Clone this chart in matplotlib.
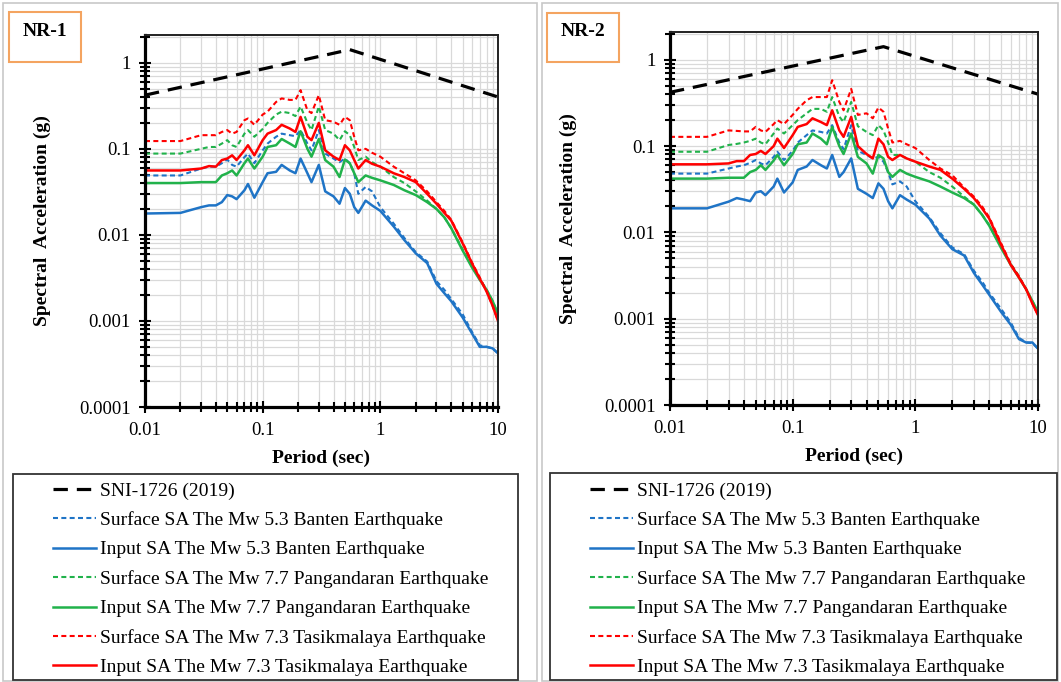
import numpy as np
import matplotlib
matplotlib.use("Agg")
import matplotlib.pyplot as plt
from matplotlib.patches import Rectangle
from matplotlib.ticker import FixedLocator, NullFormatter

plt.rcParams['font.family'] = ['Liberation Serif', 'DejaVu Serif']

# period grid (sec)
period = [0.01, 0.02, 0.03, 0.035, 0.04, 0.045, 0.05, 0.055, 0.06, 0.07, 0.075, 0.085,
          0.1, 0.11, 0.13, 0.145, 0.17, 0.19, 0.21, 0.24, 0.26, 0.3, 0.34, 0.4, 0.45,
          0.5, 0.55, 0.6, 0.65, 0.75, 0.85, 1.0, 1.3, 1.6, 2.0, 2.5, 3.0, 3.5, 4.0,
          5.0, 6.0, 7.0, 8.0, 9.0, 10.0]

# SNI-1726 (2019) design spectrum
sni_period = [0.01, 0.55, 10.0]
sni_sa = [0.42, 1.42, 0.40]

# NR-1
nr1_surf_banten = [0.049, 0.049, 0.059, 0.062, 0.062, 0.068, 0.075, 0.065, 0.062, 0.08, 0.088, 0.068,
                   0.096, 0.115, 0.138, 0.15, 0.144, 0.14, 0.165, 0.115, 0.096, 0.165, 0.088, 0.077, 0.07,
                   0.077, 0.068, 0.052, 0.03, 0.036, 0.032, 0.021, 0.0135, 0.0092, 0.0063, 0.0049, 0.0029,
                   0.0023, 0.0018, 0.0012, 0.00075, 0.00052, 0.0005, 0.00048, 0.00042]
nr1_in_banten = [0.0177, 0.018, 0.021, 0.022, 0.022, 0.024, 0.029, 0.028, 0.026, 0.033, 0.039, 0.027,
                 0.041, 0.052, 0.054, 0.065, 0.056, 0.052, 0.077, 0.052, 0.041, 0.065, 0.032, 0.028, 0.023,
                 0.035, 0.030, 0.021, 0.018, 0.025, 0.022, 0.019, 0.0125, 0.0087, 0.0061, 0.0047, 0.0027,
                 0.0021, 0.0017, 0.0011, 0.00072, 0.0005, 0.0005, 0.00048, 0.00042]
nr1_surf_pang = [0.088, 0.088, 0.1, 0.105, 0.105, 0.115, 0.126, 0.11, 0.105, 0.15, 0.165, 0.138,
                 0.17, 0.2, 0.25, 0.27, 0.26, 0.24, 0.31, 0.2, 0.165, 0.31, 0.165, 0.15, 0.126,
                 0.16, 0.144, 0.105, 0.074, 0.081, 0.07, 0.062, 0.047, 0.04, 0.032, 0.025, 0.02,
                 0.016, 0.012, 0.0068, 0.0043, 0.0031, 0.0023, 0.0017, 0.0012]
nr1_in_pang = [0.040, 0.040, 0.041, 0.041, 0.041, 0.049, 0.052, 0.056, 0.049, 0.068, 0.077, 0.059,
               0.081, 0.105, 0.11, 0.13, 0.115, 0.105, 0.16, 0.1, 0.081, 0.13, 0.074, 0.062, 0.047,
               0.075, 0.068, 0.052, 0.041, 0.049, 0.046, 0.043, 0.038, 0.033, 0.029, 0.024, 0.020,
               0.016, 0.012, 0.0066, 0.0042, 0.003, 0.0023, 0.0017, 0.0012]
nr1_surf_tasik = [0.123, 0.123, 0.144, 0.144, 0.144, 0.157, 0.165, 0.15, 0.157, 0.215, 0.225, 0.19,
                  0.25, 0.27, 0.35, 0.385, 0.37, 0.37, 0.48, 0.28, 0.26, 0.42, 0.215, 0.206, 0.19,
                  0.235, 0.215, 0.138, 0.096, 0.1, 0.09, 0.081, 0.062, 0.052, 0.043, 0.032, 0.024,
                  0.019, 0.015, 0.0082, 0.0048, 0.0032, 0.0022, 0.0015, 0.001]
nr1_in_tasik = [0.056, 0.056, 0.059, 0.063, 0.062, 0.074, 0.077, 0.084, 0.074, 0.096, 0.11, 0.084,
                0.126, 0.15, 0.165, 0.19, 0.172, 0.157, 0.235, 0.138, 0.126, 0.2, 0.096, 0.081, 0.074,
                0.11, 0.096, 0.074, 0.059, 0.074, 0.067, 0.062, 0.052, 0.047, 0.041, 0.030, 0.023,
                0.018, 0.0147, 0.008, 0.0047, 0.0031, 0.0022, 0.0015, 0.001]

# NR-2
nr2_surf_banten = [0.048, 0.048, 0.055, 0.058, 0.06, 0.064, 0.069, 0.063, 0.06, 0.075, 0.086, 0.069,
                   0.088, 0.11, 0.134, 0.152, 0.146, 0.14, 0.175, 0.11, 0.092, 0.175, 0.088, 0.079, 0.072,
                   0.075, 0.066, 0.05, 0.036, 0.039, 0.034, 0.023, 0.015, 0.0098, 0.0067, 0.0056, 0.0036,
                   0.0027, 0.002, 0.0013, 0.0009, 0.0006, 0.00053, 0.00052, 0.00045]
nr2_in_banten = [0.019, 0.019, 0.0227, 0.025, 0.024, 0.023, 0.029, 0.03, 0.027, 0.034, 0.042, 0.029,
                 0.038, 0.053, 0.058, 0.069, 0.06, 0.055, 0.079, 0.044, 0.05, 0.072, 0.032, 0.028, 0.025,
                 0.037, 0.032, 0.023, 0.019, 0.027, 0.024, 0.021, 0.0145, 0.0092, 0.0064, 0.0054, 0.0034,
                 0.0025, 0.0019, 0.0012, 0.00085, 0.00058, 0.00053, 0.00053, 0.00045]
nr2_surf_pang = [0.086, 0.086, 0.103, 0.106, 0.11, 0.115, 0.122, 0.11, 0.105, 0.14, 0.16, 0.14,
                 0.175, 0.2, 0.24, 0.27, 0.27, 0.25, 0.37, 0.22, 0.19, 0.325, 0.17, 0.146, 0.134,
                 0.175, 0.152, 0.11, 0.079, 0.079, 0.072, 0.066, 0.05, 0.043, 0.034, 0.026, 0.021,
                 0.016, 0.0122, 0.0068, 0.0043, 0.0031, 0.0022, 0.0016, 0.0012]
nr2_in_pang = [0.042, 0.042, 0.043, 0.043, 0.043, 0.05, 0.053, 0.06, 0.053, 0.068, 0.079, 0.06,
               0.081, 0.105, 0.11, 0.14, 0.122, 0.105, 0.167, 0.1, 0.081, 0.14, 0.075, 0.063, 0.048,
               0.079, 0.072, 0.05, 0.044, 0.053, 0.048, 0.044, 0.039, 0.034, 0.029, 0.025, 0.021,
               0.016, 0.012, 0.0066, 0.0042, 0.003, 0.0022, 0.0016, 0.0012]
nr2_surf_tasik = [0.128, 0.128, 0.152, 0.15, 0.148, 0.148, 0.167, 0.152, 0.146, 0.18, 0.2, 0.18,
                  0.23, 0.27, 0.34, 0.37, 0.37, 0.37, 0.58, 0.325, 0.26, 0.46, 0.23, 0.24, 0.21,
                  0.28, 0.25, 0.16, 0.11, 0.115, 0.105, 0.095, 0.069, 0.055, 0.046, 0.033, 0.026,
                  0.02, 0.015, 0.0075, 0.0043, 0.0031, 0.0022, 0.0015, 0.0011]
nr2_in_tasik = [0.0615, 0.0615, 0.063, 0.067, 0.067, 0.079, 0.081, 0.088, 0.081, 0.1, 0.122, 0.095,
                0.134, 0.167, 0.18, 0.21, 0.19, 0.175, 0.26, 0.152, 0.128, 0.218, 0.1, 0.081, 0.072,
                0.122, 0.105, 0.075, 0.069, 0.079, 0.072, 0.066, 0.058, 0.053, 0.042, 0.032, 0.025,
                0.019, 0.0145, 0.0072, 0.0042, 0.003, 0.0022, 0.0015, 0.0011]

labels = ['SNI-1726 (2019)',
          'Surface SA The Mw 5.3 Banten Earthquake',
          'Input SA The Mw 5.3 Banten Earthquake',
          'Surface SA The Mw 7.7 Pangandaran Earthquake',
          'Input SA The Mw 7.7 Pangandaran Earthquake',
          'Surface SA The Mw 7.3 Tasikmalaya Earthquake',
          'Input SA The Mw 7.3 Tasikmalaya Earthquake']

blue = '#1f74c6'
green = '#21b24b'
red = '#ff0000'

W, H = 1061, 682
fig = plt.figure(figsize=(W / 100, H / 100), dpi=100)


def box(x0, y0, x1, y1):
    # pixel box (top-left origin) -> figure fraction
    return [x0 / W, 1 - y1 / H, (x1 - x0) / W, (y1 - y0) / H]


panels = [
    dict(name='NR-1', outer=(3, 3, 537, 681), tag=(9, 12, 81, 62), ax=(145, 35, 498, 407),
         leg=(13, 474, 518, 680), ylab_x=42, handle_x=53,
         data=[nr1_surf_banten, nr1_in_banten, nr1_surf_pang, nr1_in_pang, nr1_surf_tasik, nr1_in_tasik]),
    dict(name='NR-2', outer=(542, 3, 1058, 681), tag=(547, 13, 619, 62), ax=(670, 32, 1038, 405),
         leg=(550, 473, 1057, 680), ylab_x=568, handle_x=590,
         data=[nr2_surf_banten, nr2_in_banten, nr2_surf_pang, nr2_in_pang, nr2_surf_tasik, nr2_in_tasik]),
]

for p in panels:
    x0, y0, x1, y1 = p['outer']
    fig.patches.append(Rectangle((x0 / W, 1 - y1 / H), (x1 - x0) / W, (y1 - y0) / H,
                                 transform=fig.transFigure, fill=False, ec='#c8c8c8', lw=1.2))
    x0, y0, x1, y1 = p['tag']
    fig.patches.append(Rectangle((x0 / W, 1 - y1 / H), (x1 - x0) / W, (y1 - y0) / H,
                                 transform=fig.transFigure, fill=False, ec='#f4a460', lw=1.5))
    fig.text((x0 + x1) / 2 / W, 1 - 31 / H, p['name'], ha='center', va='center',
             fontsize=14, fontweight='bold')
    x0, y0, x1, y1 = p['leg']
    fig.patches.append(Rectangle((x0 / W, 1 - y1 / H), (x1 - x0) / W, (y1 - y0) / H,
                                 transform=fig.transFigure, fill=False, ec='#333333', lw=1.3))

    ax = fig.add_axes(box(*p['ax']))
    ax.set_xscale('log')
    ax.set_yscale('log')
    ax.set_xlim(0.01, 10)
    ax.set_ylim(0.0001, 2.1)

    sb, ib, sp, ip, st, it = p['data']
    h = []
    h += ax.plot(sni_period, sni_sa, color='black', lw=2.3, dashes=(4.5, 2.8))
    h += ax.plot(period, sb, color=blue, lw=1.5, dashes=(2.4, 1.6))
    h += ax.plot(period, ib, color=blue, lw=1.8)
    h += ax.plot(period, sp, color=green, lw=1.5, dashes=(2.4, 1.6))
    h += ax.plot(period, ip, color=green, lw=1.8)
    h += ax.plot(period, st, color=red, lw=1.5, dashes=(2.4, 1.6))
    h += ax.plot(period, it, color=red, lw=1.8)

    xt = [0.01, 0.1, 1, 10]
    yt = [0.0001, 0.001, 0.01, 0.1, 1]
    ax.xaxis.set_major_locator(FixedLocator(xt))
    ax.yaxis.set_major_locator(FixedLocator(yt))
    ax.set_xticklabels(['0.01', '0.1', '1', '10'])
    ax.set_yticklabels(['0.0001', '0.001', '0.01', '0.1', '1'])
    minors = [m * 10.0 ** e for e in range(-4, 1) for m in range(2, 10)]
    ax.yaxis.set_minor_locator(FixedLocator(minors))
    ax.xaxis.set_minor_locator(FixedLocator([m * 10.0 ** e for e in range(-2, 1) for m in range(2, 10)]))
    ax.xaxis.set_minor_formatter(NullFormatter())
    ax.yaxis.set_minor_formatter(NullFormatter())
    ax.grid(True, which='both', color='#d9d9d9', lw=0.9)
    ax.set_axisbelow(True)
    ax.tick_params(which='both', direction='inout', top=False, right=False, width=1.5,
                   labelsize=13.5, pad=6)
    ax.tick_params(which='major', length=9)
    ax.tick_params(which='minor', length=7)
    for s in ['left', 'bottom']:
        ax.spines[s].set_linewidth(2.3)
    for s in ['top', 'right']:
        ax.spines[s].set_linewidth(1.4)
        ax.spines[s].set_color('#222222')

    ax.set_xlabel('Period (sec)', fontsize=14, fontweight='bold', labelpad=8)
    fig.text(p['ylab_x'] / W, 1 - ((p['ax'][1] + p['ax'][3]) / 2) / H, 'Spectral  Acceleration (g)',
             rotation=90, ha='center', va='center', fontsize=14, fontweight='bold')

    fig.legend(h, labels, loc='upper left',
               bbox_to_anchor=(p['handle_x'] / W, 1 - 482 / H),
               frameon=False, fontsize=14, handlelength=2.2, handletextpad=0.2,
               labelspacing=0.6, borderpad=0, borderaxespad=0)

fig.savefig('out.png', dpi=100)
